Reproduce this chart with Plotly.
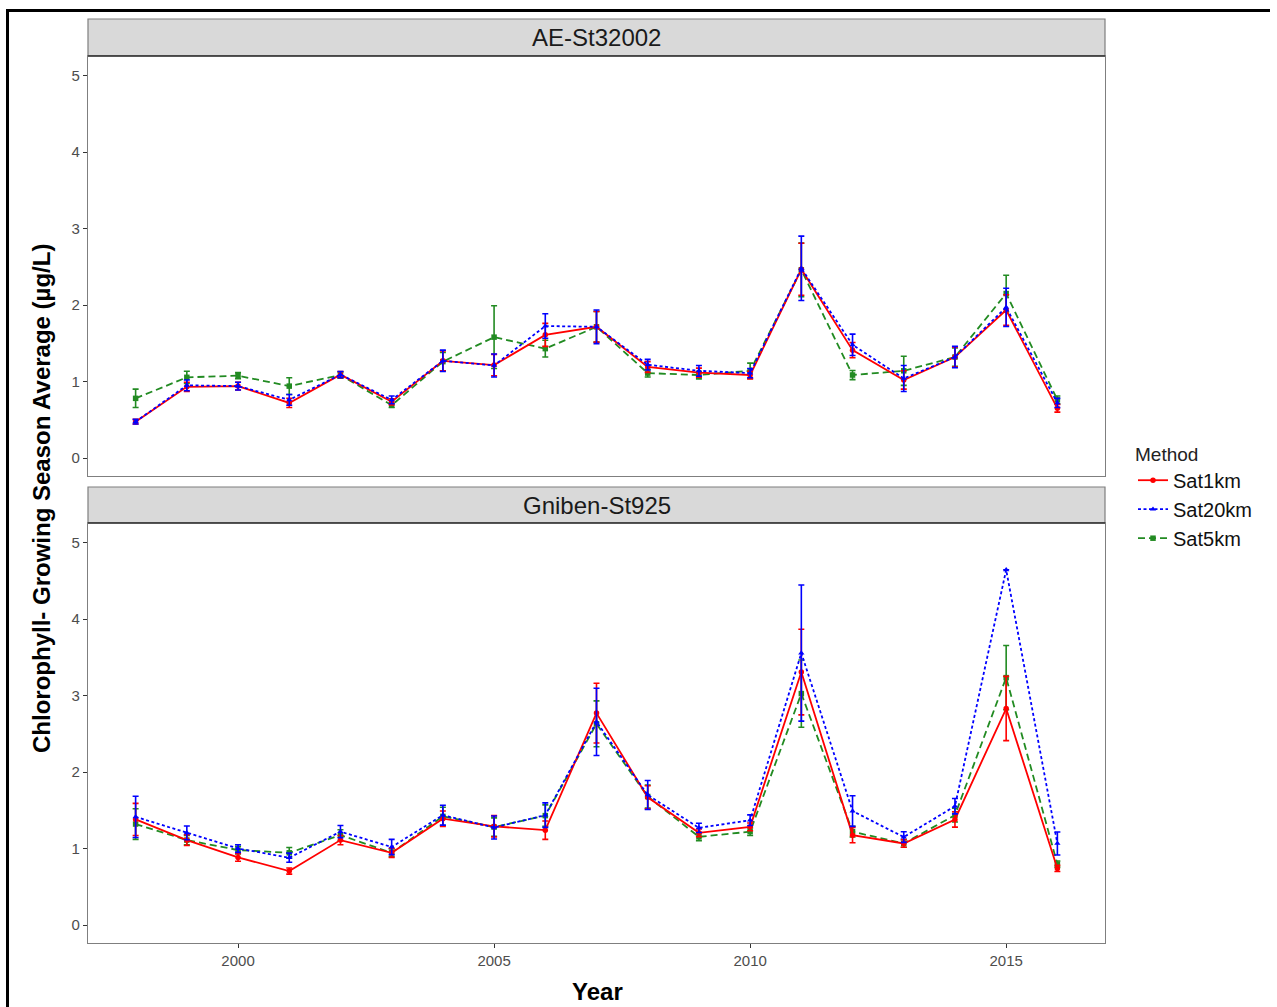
import plotly.graph_objects as go

W, H = 1277, 1007

years = list(range(1998, 2017))
methods = ["Sat1km", "Sat20km", "Sat5km"]
panels = ["AE-St32002", "Gniben-St925"]

# AE-St32002
ae_sat1km = [0.475, 0.93, 0.94, 0.72, 1.09, 0.735, 1.27, 1.215, 1.61, 1.715, 1.19, 1.115, 1.085, 2.467, 1.41, 1.02, 1.32, 1.935, 0.65]
ae_sat1km_err = [0.03, 0.06, 0.05, 0.06, 0.04, 0.04, 0.13, 0.14, 0.15, 0.2, 0.07, 0.06, 0.05, 0.34, 0.1, 0.12, 0.13, 0.2, 0.05]
ae_sat20km = [0.475, 0.95, 0.94, 0.76, 1.09, 0.76, 1.27, 1.21, 1.725, 1.715, 1.22, 1.14, 1.11, 2.48, 1.48, 1.04, 1.32, 1.97, 0.72]
ae_sat20km_err = [0.03, 0.07, 0.05, 0.07, 0.04, 0.05, 0.14, 0.15, 0.16, 0.22, 0.07, 0.07, 0.06, 0.42, 0.14, 0.17, 0.14, 0.25, 0.06]
ae_sat5km = [0.78, 1.055, 1.076, 0.94, 1.085, 0.69, 1.26, 1.58, 1.43, 1.715, 1.11, 1.085, 1.14, 2.46, 1.085, 1.14, 1.32, 2.15, 0.76]
ae_sat5km_err = [0.12, 0.08, 0.04, 0.11, 0.04, 0.03, 0.12, 0.41, 0.11, 0.2, 0.05, 0.05, 0.1, 0.35, 0.06, 0.19, 0.12, 0.24, 0.05]

# Gniben-St925
gn_sat1km = [1.38, 1.11, 0.884, 0.705, 1.11, 0.944, 1.39, 1.29, 1.24, 2.77, 1.67, 1.205, 1.283, 3.307, 1.175, 1.066, 1.38, 2.83, 0.74]
gn_sat1km_err = [0.21, 0.07, 0.05, 0.04, 0.06, 0.06, 0.1, 0.14, 0.12, 0.39, 0.15, 0.05, 0.05, 0.56, 0.1, 0.05, 0.1, 0.42, 0.04]
gn_sat20km = [1.414, 1.205, 1.0, 0.88, 1.22, 1.02, 1.436, 1.275, 1.436, 2.655, 1.70, 1.27, 1.37, 3.555, 1.49, 1.15, 1.553, 4.643, 1.066]
gn_sat20km_err = [0.27, 0.09, 0.05, 0.06, 0.08, 0.1, 0.13, 0.15, 0.16, 0.44, 0.19, 0.06, 0.07, 0.89, 0.2, 0.07, 0.1, 0.0, 0.15]
gn_sat5km = [1.32, 1.11, 0.98, 0.944, 1.175, 0.944, 1.42, 1.28, 1.43, 2.63, 1.68, 1.153, 1.22, 3.025, 1.22, 1.066, 1.436, 3.234, 0.796]
gn_sat5km_err = [0.2, 0.06, 0.05, 0.07, 0.07, 0.05, 0.12, 0.12, 0.14, 0.3, 0.15, 0.05, 0.05, 0.44, 0.07, 0.05, 0.09, 0.42, 0.04]

y_ticks = [0, 1, 2, 3, 4, 5]
x_ticks = [2000, 2005, 2010, 2015]

data = {
    "AE-St32002": {
        "Sat1km": (ae_sat1km, ae_sat1km_err),
        "Sat20km": (ae_sat20km, ae_sat20km_err),
        "Sat5km": (ae_sat5km, ae_sat5km_err),
    },
    "Gniben-St925": {
        "Sat1km": (gn_sat1km, gn_sat1km_err),
        "Sat20km": (gn_sat20km, gn_sat20km_err),
        "Sat5km": (gn_sat5km, gn_sat5km_err),
    },
}

styles = {
    "Sat1km": dict(color="#FF0000", dash="solid", symbol="circle", rank=1),
    "Sat20km": dict(color="#0000FF", dash="3px,2.5px", symbol="triangle-up", rank=2),
    "Sat5km": dict(color="#228B22", dash="7px,4px", symbol="square", rank=3),
}
draw_order = ["Sat5km", "Sat1km", "Sat20km"]

FONT = "Liberation Sans, Arial, sans-serif"

fig = go.Figure()

def px_x(x):
    return x / W

def px_y(y):
    return 1 - y / H

axis_ids = [("x", "y"), ("x2", "y2")]
for pi, panel in enumerate(panels):
    xa, ya = axis_ids[pi]
    for m in draw_order:
        vals, errs = data[panel][m]
        st = styles[m]
        fig.add_trace(go.Scatter(
            x=years, y=vals, mode="lines+markers", name=m,
            xaxis=xa, yaxis=ya,
            line=dict(color=st["color"], dash=st["dash"], width=1.8),
            marker=dict(color=st["color"], symbol=st["symbol"], size=5.5),
            error_y=dict(type="data", array=errs, visible=True,
                         color=st["color"], thickness=1.6, width=3),
            legendgroup=m, showlegend=(pi == 0), legendrank=st["rank"],
        ))

x_range = [1997.07, 2016.93]
y_range = [-0.235, 5.255]
tickfont = dict(family=FONT, size=15, color="#4D4D4D")

common_x = dict(range=x_range, showgrid=False, zeroline=False, showline=True, mirror=True,
                linecolor="#7F7F7F", linewidth=1.2, automargin=False)
common_y = dict(range=y_range, showgrid=False, zeroline=False, showline=True, mirror=True,
                linecolor="#7F7F7F", linewidth=1.2, tickvals=y_ticks, ticks="outside",
                ticklen=4, tickcolor="#333333", tickwidth=1.2, tickfont=tickfont, automargin=False)

fig.update_layout(
    width=W, height=H,
    margin=dict(l=0, r=0, t=0, b=0),
    paper_bgcolor="white", plot_bgcolor="white",
    template="none",
    xaxis=dict(**common_x, domain=[px_x(88), px_x(1105)], anchor="y", showticklabels=False, ticks=""),
    yaxis=dict(**common_y, domain=[px_y(476), px_y(56)], anchor="x"),
    xaxis2=dict(**common_x, domain=[px_x(88), px_x(1105)], anchor="y2", tickvals=x_ticks,
                ticks="outside", ticklen=4, tickcolor="#333333", tickwidth=1.2, tickfont=tickfont),
    yaxis2=dict(**common_y, domain=[px_y(943), px_y(523)], anchor="x2"),
    legend=dict(x=px_x(1133), y=px_y(436), xanchor="left", yanchor="top",
                title=dict(text="Method", font=dict(family=FONT, size=19, color="#222")),
                font=dict(family=FONT, size=20, color="#111"),
                bgcolor="rgba(0,0,0,0)", tracegroupgap=0, itemwidth=30),
    showlegend=True,
)

shapes = []
# strips
for (y0, y1) in [(19, 56), (487, 523)]:
    shapes.append(dict(type="rect", xref="paper", yref="paper",
                       x0=px_x(88), x1=px_x(1105), y0=px_y(y1), y1=px_y(y0),
                       fillcolor="#D9D9D9", line=dict(color="#7F7F7F", width=1.2), layer="below"))
    shapes.append(dict(type="line", xref="paper", yref="paper",
                       x0=px_x(88), x1=px_x(1105), y0=px_y(y1), y1=px_y(y1),
                       line=dict(color="#333333", width=1.5)))
# outer black frame (top and left)
shapes.append(dict(type="line", xref="paper", yref="paper", x0=px_x(6), x1=px_x(1270),
                   y0=px_y(10.5), y1=px_y(10.5), line=dict(color="black", width=3)))
shapes.append(dict(type="line", xref="paper", yref="paper", x0=px_x(7.5), x1=px_x(7.5),
                   y0=px_y(9), y1=px_y(1007), line=dict(color="black", width=3)))
fig.update_layout(shapes=shapes)

title_font = dict(family=FONT, size=24, color="black")
strip_font = dict(family=FONT, size=24, color="#1A1A1A")

def ann(text, x, y, font, angle=0):
    return dict(text=text, x=px_x(x), y=px_y(y), xref="paper", yref="paper",
                xanchor="center", yanchor="middle", showarrow=False,
                textangle=angle, font=font)

annotations = [
    ann("AE-St32002", 596.5, 38, strip_font),
    ann("Gniben-St925", 596.5, 505, strip_font),
    ann("<b>Year</b>", 597, 991, title_font),
    ann("<b>Chlorophyll- Growing Season Average (µg/L)</b>", 42, 499, title_font, -90),
]
fig.update_layout(annotations=annotations)

fig.write_html("out.html", config={"displayModeBar": False},
               post_script="document.body.style.margin='0px';")
